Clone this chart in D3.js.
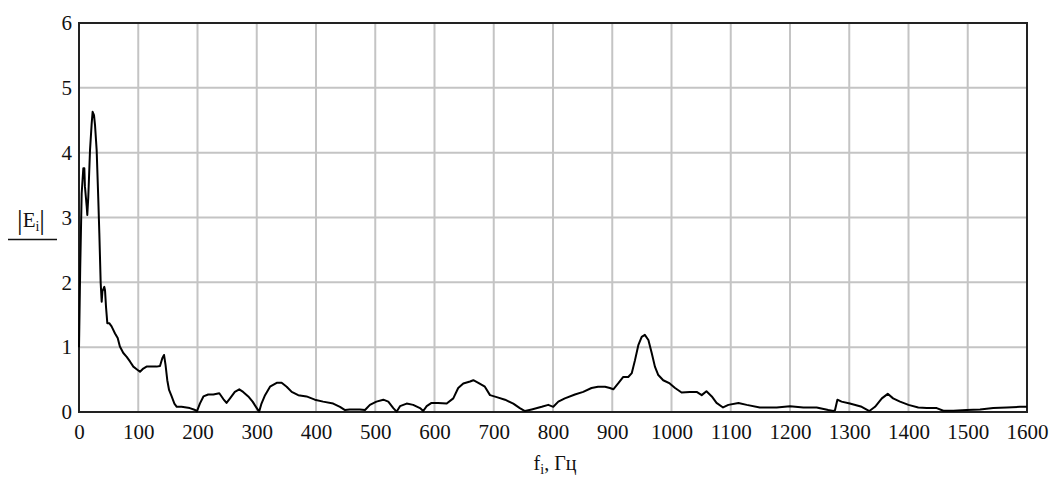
<!DOCTYPE html>
<html><head><meta charset="utf-8">
<script src="https://cdn.jsdelivr.net/npm/d3@7"></script>
<style>body{margin:0;background:#fff}</style>
</head><body><svg id="c" width="1056" height="480"></svg>
<script>
const freq = [0,2,4.5,7.3,9,10,13,14,15.7,18.6,21.4,23,25.3,27,29.8,32.6,34.3,36.6,38.3,39.5,42.7,43.9,45.6,47.8,51,55,60.8,65.3,69,74.8,80.5,86,91.7,97.3,103,108.5,114,122.7,131,136.7,140.6,143.5,146,149,152,156.4,161,165,173,187,196,199,204,210,218,226.7,236.8,243.6,249,254.9,263,270.5,277,285.7,293,300,304,308,314,322.4,333.7,342,350.5,359,370,384,398,412,429,440.5,449,457,474,482.7,491,502,513.6,522,530.5,536,541.8,553,564,575.5,581,586.8,595,606,620.6,631.7,640,648.6,660,665.5,674,685,693.7,705,719,733,744,752.7,764,781,792,800.5,809,820,837,851,865,876,887.8,896,901.8,910,918.6,927,933,938.4,944,949.7,955,961,966.6,972,977.7,986,997,1006,1017,1031,1042.5,1051,1059,1068,1076,1087,1096,1113,1127,1149,1177.5,1200,1222.5,1245,1264.6,1273,1276,1280,1287,1301,1321,1334,1343.5,1355,1365,1374,1385.7,1400,1416.5,1430.7,1447.6,1458.8,1475.7,1498,1520.7,1543,1566,1588,1600];
const mag = [1.0,2.2,3.37,3.76,3.76,3.48,3.17,3.04,3.32,4.04,4.45,4.63,4.58,4.43,4.04,3.27,2.76,1.99,1.70,1.86,1.93,1.88,1.62,1.37,1.37,1.32,1.21,1.14,1.01,0.91,0.85,0.78,0.70,0.66,0.62,0.67,0.70,0.70,0.70,0.71,0.83,0.88,0.73,0.49,0.34,0.24,0.13,0.08,0.08,0.06,0.03,0.01,0.13,0.24,0.27,0.27,0.29,0.20,0.14,0.21,0.31,0.35,0.31,0.24,0.16,0.06,0.005,0.13,0.26,0.39,0.45,0.45,0.39,0.31,0.26,0.24,0.19,0.16,0.13,0.08,0.03,0.04,0.04,0.03,0.11,0.16,0.19,0.16,0.06,0.005,0.09,0.13,0.11,0.06,0.015,0.09,0.14,0.14,0.13,0.21,0.37,0.44,0.47,0.49,0.45,0.39,0.26,0.23,0.19,0.13,0.06,0.015,0.04,0.08,0.11,0.08,0.16,0.21,0.27,0.31,0.37,0.39,0.39,0.37,0.35,0.44,0.54,0.54,0.60,0.80,1.03,1.16,1.19,1.11,0.91,0.70,0.57,0.49,0.44,0.37,0.30,0.31,0.31,0.26,0.32,0.24,0.14,0.07,0.11,0.14,0.11,0.07,0.07,0.09,0.07,0.07,0.03,0.015,0.03,0.19,0.16,0.13,0.08,0.015,0.08,0.21,0.28,0.21,0.16,0.11,0.07,0.06,0.06,0.02,0.02,0.03,0.04,0.06,0.07,0.08,0.08];
const xTicks = [0,100,200,300,400,500,600,700,800,900,1000,1100,1200,1300,1400,1500,1600];
const yTicks = [0,1,2,3,4,5,6];

const FONT = "'Liberation Serif', 'DejaVu Serif', serif";
const svg = d3.select("#c");
const L=79,R=1027,T=23,B=412;
const x = d3.scaleLinear().domain([0,1600]).range([L,R]);
const y = d3.scaleLinear().domain([0,6]).range([B,T]);

// grid
svg.append("g").selectAll("line").data(xTicks).join("line")
  .attr("x1",d=>x(d)).attr("x2",d=>x(d)).attr("y1",T).attr("y2",B)
  .attr("stroke","#c4c4c4").attr("stroke-width",2);
svg.append("g").selectAll("line").data(yTicks).join("line")
  .attr("x1",L).attr("x2",R).attr("y1",d=>y(d)).attr("y2",d=>y(d))
  .attr("stroke","#c4c4c4").attr("stroke-width",2);

// frame
svg.append("rect").attr("x",L).attr("y",T).attr("width",R-L).attr("height",B-T)
  .attr("fill","none").attr("stroke","#222").attr("stroke-width",2);

// axes labels via d3 axes
const xa = svg.append("g").attr("transform",`translate(0,${B})`)
  .call(d3.axisBottom(x).tickValues(xTicks).tickSize(0).tickPadding(12).tickFormat(d3.format("d")));
xa.select(".domain").remove();
xa.selectAll("text").style("font-family",FONT).style("font-size","21px").attr("fill","#111");
const ya = svg.append("g").attr("transform",`translate(${L},0)`)
  .call(d3.axisLeft(y).tickValues(yTicks).tickSize(0).tickPadding(7).tickFormat(d3.format("d")));
ya.select(".domain").remove();
ya.selectAll("text").style("font-family",FONT).style("font-size","21px").attr("fill","#111");

// curve
const line = d3.line().x((d,i)=>x(freq[i])).y(d=>y(d));
svg.append("path").datum(mag).attr("d",line).attr("fill","none")
  .attr("stroke","#000").attr("stroke-width",2).attr("stroke-linejoin","round");

// x title
const xt = svg.append("text").attr("x",555).attr("y",470).attr("text-anchor","middle")
  .style("font-family",FONT).style("font-size","20px").attr("fill","#111");
xt.append("tspan").text("f");
xt.append("tspan").style("font-size","14px").attr("dy",4).text("i");
xt.append("tspan").attr("dy",-4).text(", Гц");

// y title
const yt = svg.append("text").attr("x",31).attr("y",227).attr("text-anchor","middle")
  .style("font-family",FONT).style("font-size","21px").attr("fill","#111");
yt.append("tspan").style("font-size","28px").attr("dy",2).text("|");
yt.append("tspan").attr("dy",-2).text("E");
yt.append("tspan").style("font-size","14px").attr("dy",4).text("i");
yt.append("tspan").style("font-size","28px").attr("dy",-2).text("|");
svg.append("line").attr("x1",8).attr("x2",57).attr("y1",239.5).attr("y2",239.5)
  .attr("stroke","#111").attr("stroke-width",1.5);
</script></body></html>
